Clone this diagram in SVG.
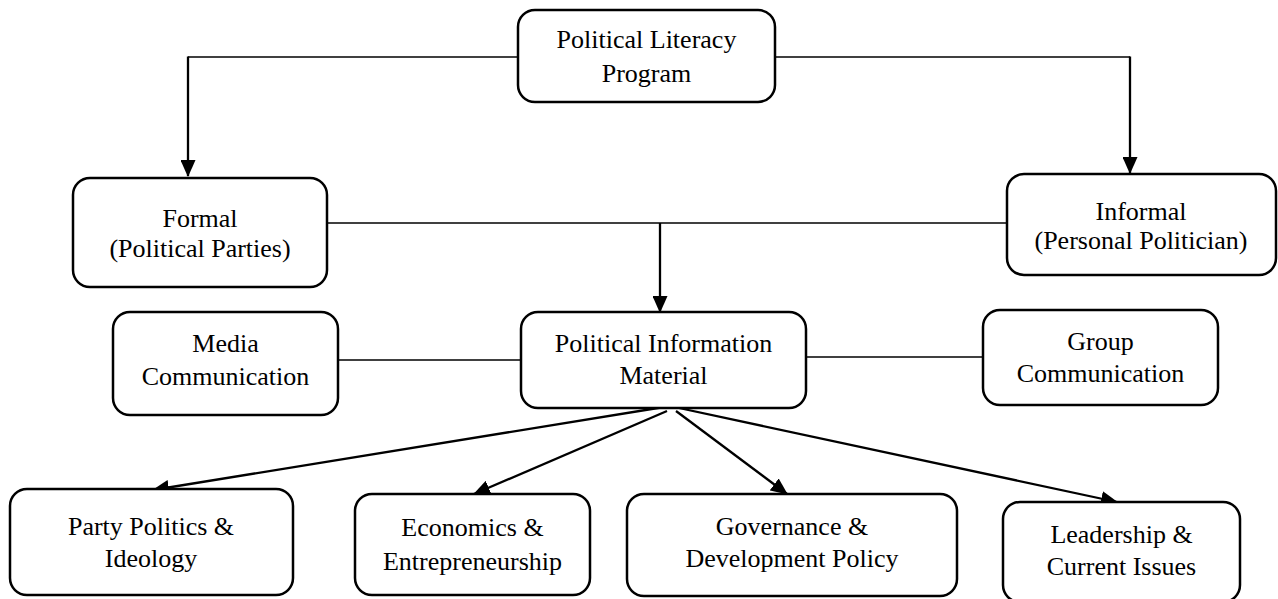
<svg xmlns="http://www.w3.org/2000/svg" width="1278" height="599" viewBox="0 0 1278 599">
<style>
.box{fill:#fff;stroke:#000;stroke-width:2.5}
.t{font-family:"Liberation Serif","Times New Roman",serif;font-size:26px;fill:#000;text-anchor:middle}
.ln{fill:none;stroke:#000;stroke-width:1.5}
.ar{fill:none;stroke:#000;stroke-width:2.3;marker-end:url(#ah)}
</style>
<defs>
<marker id="ah" markerWidth="17" markerHeight="15" refX="16" refY="7.5" orient="auto" markerUnits="userSpaceOnUse">
<path d="M0,0 L17,7.5 L0,15 Z" fill="#000"/>
</marker>
</defs>
<rect width="1278" height="599" fill="#fff"/>
<g id="connectors">
<polyline class="ln" points="518,57 188,57"/>
<line class="ar" x1="188" y1="56.5" x2="188" y2="176"/>
<polyline class="ln" points="775,57 1130,57"/>
<line class="ar" x1="1130" y1="56.5" x2="1130" y2="173"/>
<line class="ln" x1="309" y1="223" x2="1007" y2="223"/>
<line class="ar" x1="660" y1="223" x2="660" y2="312"/>
<line class="ln" x1="338" y1="360" x2="521" y2="360"/>
<line class="ln" x1="806" y1="357" x2="983" y2="357"/>
<line class="ar" x1="664" y1="407" x2="153" y2="490"/>
<line class="ar" x1="667" y1="411" x2="474" y2="494"/>
<line class="ar" x1="676" y1="411" x2="787" y2="494"/>
<line class="ar" x1="679" y1="408" x2="1117" y2="502"/>
</g>
<g id="n-program">
<rect class="box" x="518" y="10" width="257" height="92" rx="17"/>
<text class="t" x="646.5" y="48">Political Literacy</text>
<text class="t" x="646.5" y="82">Program</text>
</g>
<g id="n-formal">
<rect class="box" x="73" y="178" width="254" height="109" rx="17"/>
<text class="t" x="200" y="227">Formal</text>
<text class="t" x="200" y="257">(Political Parties)</text>
</g>
<g id="n-informal">
<rect class="box" x="1007" y="174" width="269" height="101" rx="17"/>
<text class="t" x="1141" y="220">Informal</text>
<text class="t" x="1141" y="249">(Personal Politician)</text>
</g>
<g id="n-media">
<rect class="box" x="113" y="312" width="225" height="103" rx="17"/>
<text class="t" x="225.5" y="352">Media</text>
<text class="t" x="225.5" y="385">Communication</text>
</g>
<g id="n-material">
<rect class="box" x="521" y="312" width="285" height="96" rx="17"/>
<text class="t" x="663.5" y="352">Political Information</text>
<text class="t" x="663.5" y="384">Material</text>
</g>
<g id="n-group">
<rect class="box" x="983" y="310" width="235" height="95" rx="17"/>
<text class="t" x="1100.5" y="350">Group</text>
<text class="t" x="1100.5" y="382">Communication</text>
</g>
<g id="n-party">
<rect class="box" x="10" y="489" width="283" height="106" rx="17"/>
<text class="t" x="151" y="535">Party Politics &amp;</text>
<text class="t" x="151" y="567">Ideology</text>
</g>
<g id="n-econ">
<rect class="box" x="355" y="494" width="235" height="101" rx="17"/>
<text class="t" x="472.5" y="536">Economics &amp;</text>
<text class="t" x="472.5" y="570">Entrepreneurship</text>
</g>
<g id="n-gov">
<rect class="box" x="627" y="494" width="330" height="102" rx="17"/>
<text class="t" x="792" y="535">Governance &amp;</text>
<text class="t" x="792" y="567">Development Policy</text>
</g>
<g id="n-lead">
<rect class="box" x="1003" y="502" width="237" height="100" rx="17"/>
<text class="t" x="1121.5" y="543">Leadership &amp;</text>
<text class="t" x="1121.5" y="575">Current Issues</text>
</g>
</svg>
